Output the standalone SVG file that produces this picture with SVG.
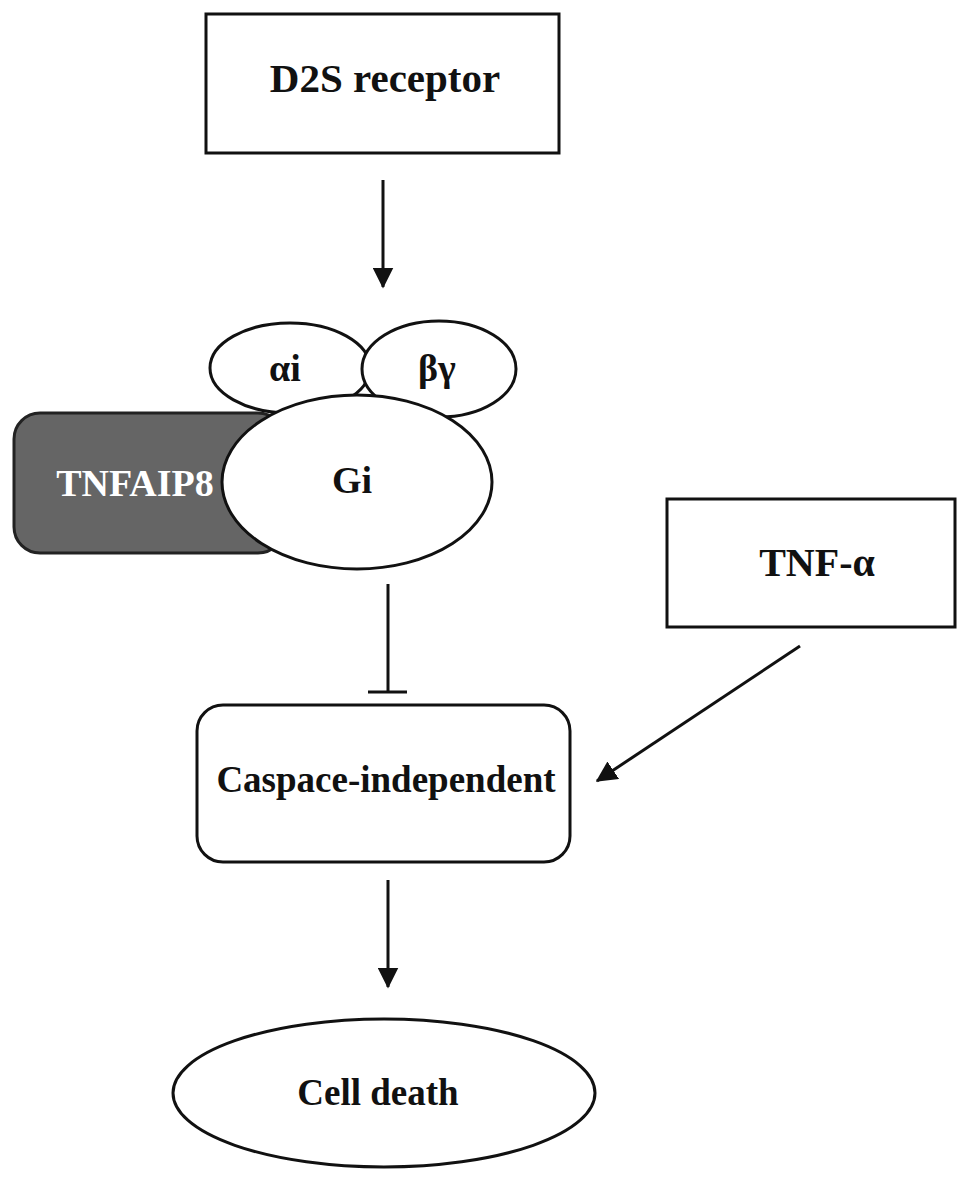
<svg xmlns="http://www.w3.org/2000/svg" width="969" height="1181" viewBox="0 0 969 1181">
<defs>
<style>
.box{fill:#fff;stroke:#111;stroke-width:3}
.ell{fill:#fff;stroke:#111;stroke-width:3}
.lbl{font-family:"Liberation Serif","Times New Roman",serif;font-weight:bold;fill:#111;text-anchor:middle}
.edge{stroke:#111;stroke-width:3;fill:none}
</style>
<marker id="arr" markerWidth="7" markerHeight="7" refX="6.5" refY="3.5" orient="auto" markerUnits="strokeWidth">
<path d="M0,0 L7,3.5 L0,7 Z" fill="#111"/>
</marker>
</defs>
<rect width="969" height="1181" fill="#fff"/>
<g id="d2s">
<rect class="box" x="206" y="14" width="353" height="139"/>
<text class="lbl" x="385" y="92" font-size="41">D2S receptor</text>
</g>
<g id="tnfaip8">
<rect x="14" y="413" width="270" height="140" rx="26" fill="#656565" stroke="#222" stroke-width="3"/>
<text class="lbl" x="135" y="496" font-size="38" style="fill:#fff">TNFAIP8</text>
</g>
<g id="alpha-i">
<ellipse class="ell" cx="290" cy="368" rx="80" ry="45"/>
<text class="lbl" x="285" y="381" font-size="38">αi</text>
</g>
<g id="beta-gamma">
<ellipse class="ell" cx="439" cy="369" rx="77" ry="48"/>
<text class="lbl" x="437" y="381" font-size="38">βγ</text>
</g>
<g id="gi">
<ellipse class="ell" cx="357" cy="482" rx="135" ry="87"/>
<text class="lbl" x="352" y="493" font-size="38">Gi</text>
</g>
<g id="tnfa">
<rect class="box" x="667" y="499" width="288" height="128"/>
<text class="lbl" x="817" y="576" font-size="40">TNF-α</text>
</g>
<g id="caspace">
<rect class="box" x="197" y="705" width="373" height="157" rx="26"/>
<text class="lbl" x="386" y="792" font-size="37">Caspace-independent</text>
</g>
<g id="celldeath">
<ellipse class="ell" cx="384" cy="1093" rx="211" ry="74"/>
<text class="lbl" x="378" y="1105" font-size="37">Cell death</text>
</g>
<g id="connectors">
<line class="edge" x1="383" y1="180" x2="383" y2="287" marker-end="url(#arr)"/>
<line class="edge" x1="388" y1="584" x2="388" y2="692"/>
<line class="edge" x1="368" y1="692" x2="407" y2="692"/>
<line class="edge" x1="800" y1="646" x2="597" y2="781" marker-end="url(#arr)"/>
<line class="edge" x1="388" y1="880" x2="388" y2="987" marker-end="url(#arr)"/>
</g>
</svg>
